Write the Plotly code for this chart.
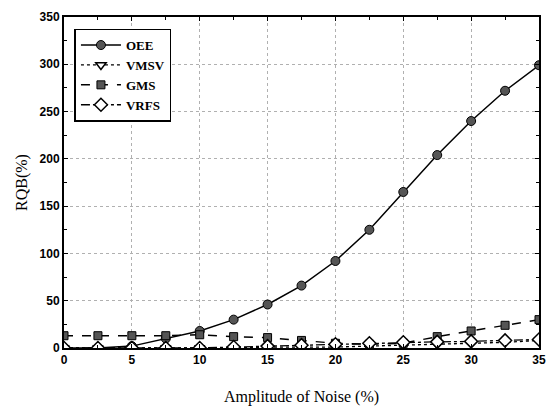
import plotly.graph_objects as go

noise = [0, 2.5, 5, 7.5, 10, 12.5, 15, 17.5, 20, 22.5, 25, 27.5, 30, 32.5, 35]
oee = [0, 0, 2, 10, 18, 30, 46, 66, 92, 125, 165, 204, 240, 272, 299]
vmsv = [0, 0, 0, 0, 0, 0, 1, 1, 1, 2, 3, 4, 5, 6, 8]
gms = [13, 13, 13, 13, 14, 12, 11, 8, 5, 4, 5, 12, 18, 24, 30]
vrfs = [0, 0, 0, 0, 0, 1, 2, 3, 4, 5, 6, 6.5, 7, 8, 9]

x_ticks = [0, 5, 10, 15, 20, 25, 30, 35]
y_ticks = [0, 50, 100, 150, 200, 250, 300, 350]

fig = go.Figure()
fig.add_trace(go.Scatter(x=noise, y=oee, name="<b>OEE</b>", mode="lines+markers",
                         line=dict(color="black", width=1.5, dash="solid"),
                         marker=dict(symbol="circle", size=9, color="#555555",
                                     line=dict(color="black", width=1))))
fig.add_trace(go.Scatter(x=noise, y=vmsv, name="<b>VMSV</b>", mode="lines+markers",
                         line=dict(color="black", width=1.3, dash="dot"),
                         marker=dict(symbol="triangle-down", size=9, color="white",
                                     line=dict(color="black", width=1.5))))
fig.add_trace(go.Scatter(x=noise, y=gms, name="<b>GMS</b>", mode="lines+markers",
                         line=dict(color="black", width=1.5, dash="dash"),
                         marker=dict(symbol="square", size=8, color="#555555",
                                     line=dict(color="black", width=1))))
fig.add_trace(go.Scatter(x=noise, y=vrfs, name="<b>VRFS</b>", mode="lines+markers",
                         line=dict(color="black", width=1.3, dash="dashdot"),
                         marker=dict(symbol="diamond", size=10, color="white",
                                     line=dict(color="black", width=1.5))))

axis_common = dict(showline=True, linecolor="black", linewidth=2, mirror="ticks",
                   ticks="inside", ticklen=4, tickcolor="black",
                   showgrid=True, gridcolor="#b0b0b0", gridwidth=1, griddash="dot",
                   zeroline=False,
                   tickfont=dict(family="Liberation Sans, Arial", size=12, color="black",
                                 weight="bold"))

fig.update_xaxes(range=[0, 35], tickvals=x_ticks,
                 title=dict(text="Amplitude of Noise (%)",
                            font=dict(family="Liberation Serif, Times New Roman", size=16, color="black"),
                            standoff=24),
                 minor=dict(dtick=2.5, ticks="inside", ticklen=3, tickcolor="black", showgrid=False),
                 **axis_common)
fig.update_yaxes(range=[0, 350], tickvals=y_ticks,
                 title=dict(text="RQB(%)",
                            font=dict(family="Liberation Serif, Times New Roman", size=16, color="black"),
                            standoff=8),
                 minor=dict(dtick=25, ticks="inside", ticklen=3, tickcolor="black", showgrid=False),
                 **axis_common)

fig.update_layout(width=556, height=414,
                  margin=dict(l=64, r=14, t=10, b=66),
                  paper_bgcolor="white", plot_bgcolor="white",
                  showlegend=True,
                  legend=dict(x=0.022, y=0.965, xanchor="left", yanchor="top",
                              bgcolor="white", bordercolor="black", borderwidth=1.5,
                              font=dict(family="Liberation Serif, Times New Roman", size=13, color="black"),
                              tracegroupgap=0, itemwidth=40))

fig.write_html("out.html")
